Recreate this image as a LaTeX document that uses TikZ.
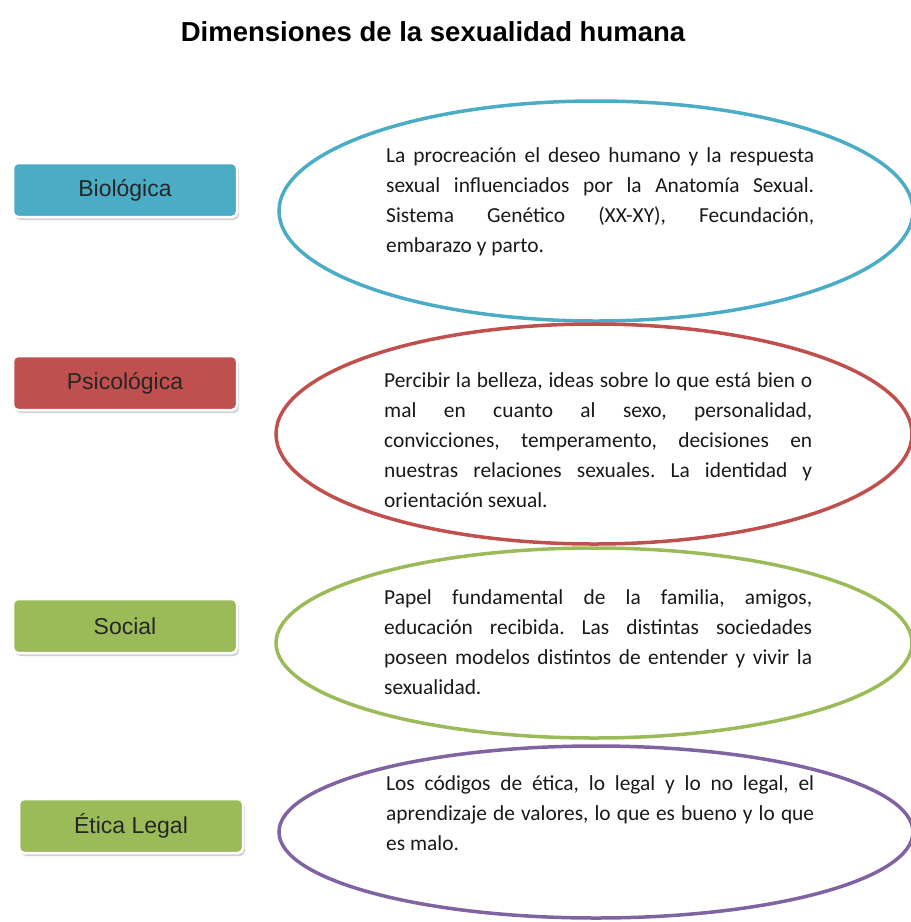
\documentclass[tikz,border=0pt]{standalone}
\usepackage{fontspec}
\setmainfont{Carlito}
\newfontfamily\arialfont{Liberation Sans}
\usetikzlibrary{shapes.geometric,shadows}
\frenchspacing

\definecolor{bioblue}{HTML}{4BACC6}
\definecolor{psired}{HTML}{C0504D}
\definecolor{socgreen}{HTML}{9BBB59}
\definecolor{eticpurple}{HTML}{8064A2}

\begin{document}
\begin{tikzpicture}[x=1pt,y=-1pt,
    dimbox/.style={rounded corners=5pt, draw=white, line width=2.5pt,
      minimum width=224pt, minimum height=54pt, inner sep=0pt, text=black!85,
      font=\arialfont\fontsize{23}{27}\selectfont,
      drop shadow={shadow xshift=2pt, shadow yshift=-3pt, fill=black!35}},
    dimoval/.style={ellipse, line width=3.5pt, inner sep=0pt},
    dimtext/.style={anchor=base west, text width=428pt, align=justify, inner sep=0pt,
      text=black!90, font=\fontsize{21.4}{30}\selectfont}]

    \useasboundingbox (0,0) rectangle (911,922);

    % Title
    \node[font=\arialfont\bfseries\fontsize{27.5}{32}\selectfont] (titulo) at (433,32)
        {Dimensiones de la sexualidad humana};

    % Ellipses (drawn first, text goes on top)
    \node[dimoval, draw=bioblue, minimum width=634pt, minimum height=220pt] (ovbio) at (596,211) {};
    \node[dimoval, draw=psired, minimum width=636pt, minimum height=220pt] (ovpsi) at (594,434) {};
    \node[dimoval, draw=socgreen, minimum width=636pt, minimum height=190pt] (ovsoc) at (594,643) {};
    \node[dimoval, draw=eticpurple, minimum width=634pt, minimum height=172pt] (ovetic) at (596,832) {};

    % Dimension boxes
    \node[dimbox, fill=bioblue] (bio) at (125,190) {Biológica};
    \node[dimbox, fill=psired] (psi) at (125,383) {Psicológica};
    \node[dimbox, fill=socgreen] (soc) at (125,626) {Social};
    \node[dimbox, fill=socgreen] (etic) at (131,826) {Ética Legal};

    % Descriptions
    \node[dimtext] (txbio) at (386,162) {La procreación el deseo humano y la respuesta\linebreak
        sexual influenciados por la Anatomía Sexual.\linebreak
        Sistema Genético (XX-XY), Fecundación,\linebreak
        embarazo y parto.};
    \node[dimtext] (txpsi) at (384,387) {Percibir la belleza, ideas sobre lo que está bien o\linebreak
        mal en cuanto al sexo, personalidad,\linebreak
        convicciones, temperamento, decisiones en\linebreak
        nuestras relaciones sexuales. La identidad y\linebreak
        orientación sexual.};
    \node[dimtext] (txsoc) at (384,604) {Papel fundamental de la familia, amigos,\linebreak
        educación recibida. Las distintas sociedades\linebreak
        poseen modelos distintos de entender y vivir la\linebreak
        sexualidad.};
    \node[dimtext] (txetic) at (386,790) {Los códigos de ética, lo legal y lo no legal, el\linebreak
        aprendizaje de valores, lo que es bueno y lo que\linebreak
        es malo.};
\end{tikzpicture}
\end{document}
